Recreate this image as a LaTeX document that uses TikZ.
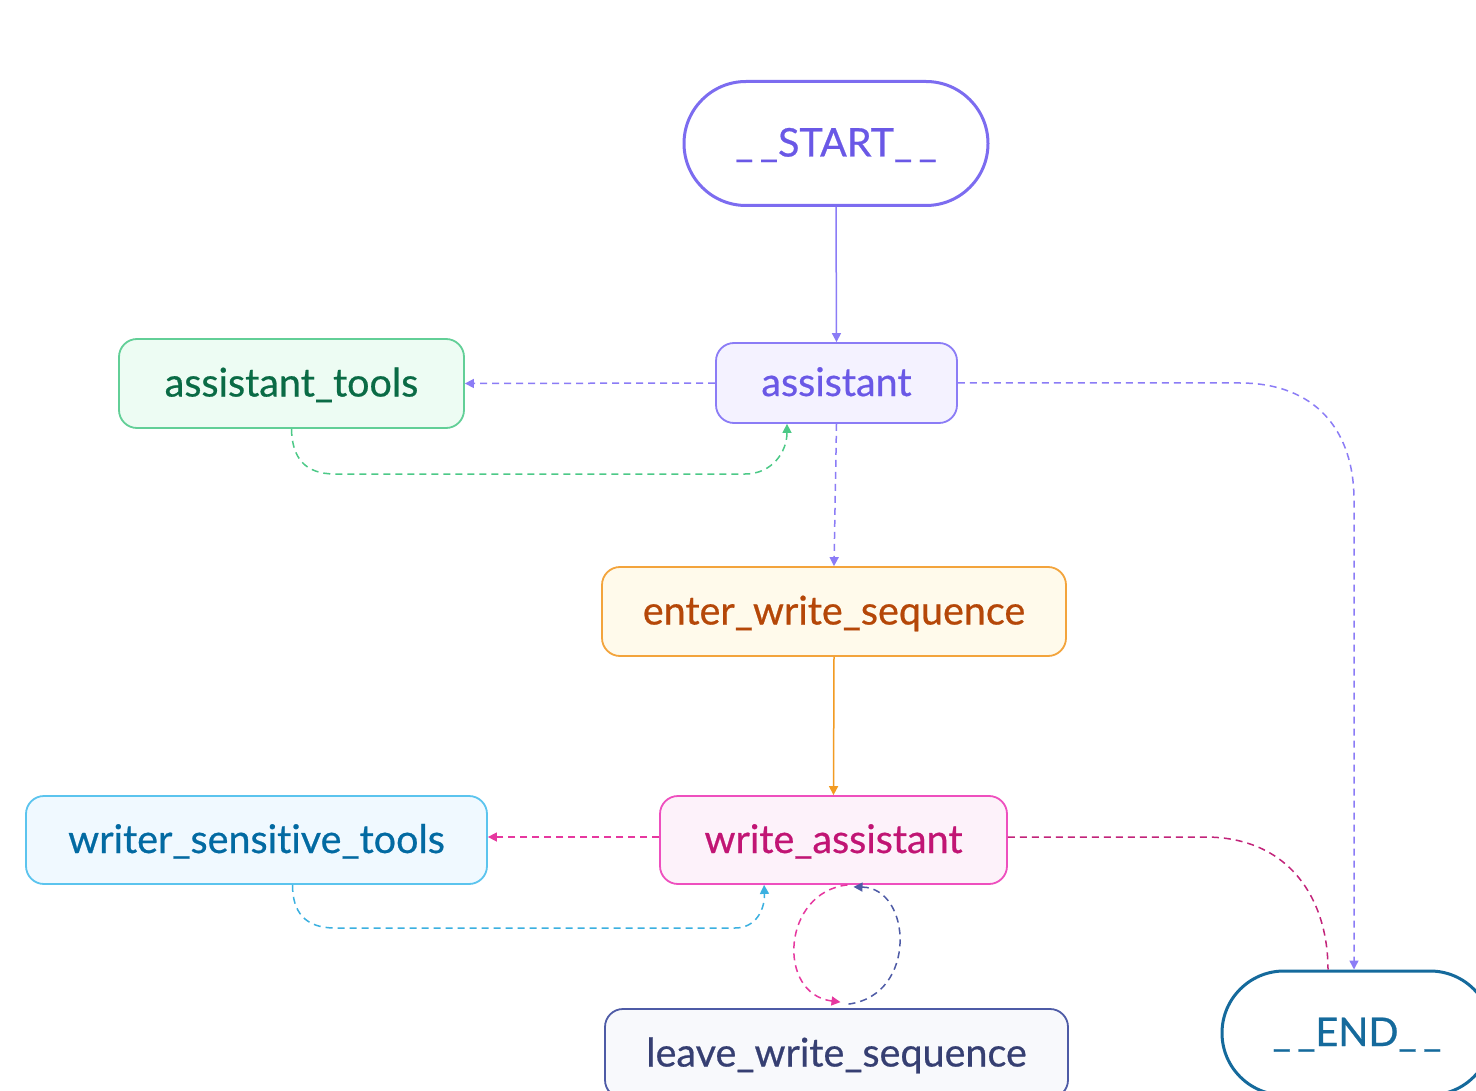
\documentclass[tikz,border=0pt]{standalone}
\usepackage{fontspec}
\setmainfont{Lato}[Ligatures=NoCommon, FakeBold=0.6]
\usetikzlibrary{arrows.meta}
\definecolor{pbord}{HTML}{7C6CF0}
\definecolor{ptext}{HTML}{6A58E6}
\definecolor{pfill}{HTML}{F4F2FF}
\definecolor{pline}{HTML}{8B7CF6}
\definecolor{gbord}{HTML}{62CF97}
\definecolor{gfill}{HTML}{EDFCF3}
\definecolor{gtext}{HTML}{0A6B45}
\definecolor{gline}{HTML}{4CC987}
\definecolor{obord}{HTML}{F3A43C}
\definecolor{ofill}{HTML}{FFFAEB}
\definecolor{otext}{HTML}{B54708}
\definecolor{oline}{HTML}{F29B22}
\definecolor{mbord}{HTML}{EE4FBE}
\definecolor{mfill}{HTML}{FDF2FA}
\definecolor{mtext}{HTML}{C11574}
\definecolor{mline}{HTML}{E6389F}
\definecolor{mdark}{HTML}{C2247A}
\definecolor{cbord}{HTML}{5BC4EE}
\definecolor{cfill}{HTML}{F0F9FF}
\definecolor{ctext}{HTML}{026AA2}
\definecolor{cline}{HTML}{3BB0E0}
\definecolor{dbord}{HTML}{4E5BA6}
\definecolor{dfill}{HTML}{F8F9FC}
\definecolor{dtext}{HTML}{363F72}
\definecolor{ebord}{HTML}{156A9C}
\begin{document}
\begin{tikzpicture}[x=1pt,y=-1pt,
  box/.style={draw, rounded corners=18pt, line width=1.8pt, inner sep=0pt,
    text height=27pt, text depth=1pt, font=\fontsize{39.5}{48}\selectfont},
  term/.style={draw, rounded corners=62pt, line width=3pt, inner sep=0pt,
    minimum width=#1, minimum height=124pt, text height=27pt, text depth=1pt,
    font=\fontsize{39.5}{48}\selectfont},
  tip/.style={-{Triangle[length=9pt,width=9pt]}},
  dsh/.style={dash pattern=on 7pt off 5pt, line width=1.5pt},
  sld/.style={line width=1.5pt}]
\useasboundingbox (0,0) rectangle (1476,1091);
\fill[white] (0,0) rectangle (1476,1091);
\clip (0,0) rectangle (1476,1091);

\node[term=304pt, draw=pbord, text=ptext, fill=white] (start) at (836,143.5) {\_\,\_START\_\,\_};
\node[box, draw=pline, fill=pfill, text=ptext, minimum width=241pt, minimum height=80pt] (assistant) at (836.5,383) {assistant};
\node[box, draw=gbord, fill=gfill, text=gtext, minimum width=345pt, minimum height=89pt] (atools) at (291.5,383.5) {assistant\_tools};
\node[box, draw=obord, fill=ofill, text=otext, minimum width=464pt, minimum height=89pt] (enter) at (834,611.5) {enter\_write\_sequence};
\node[box, draw=mbord, fill=mfill, text=mtext, minimum width=347pt, minimum height=88pt] (wa) at (833.5,840) {write\_assistant};
\node[box, draw=cbord, fill=cfill, text=ctext, minimum width=461pt, minimum height=88pt] (wst) at (256.5,840) {writer\_sensitive\_tools};
\node[box, draw=dbord, fill=dfill, text=dtext, minimum width=463pt, minimum height=89pt] (leave) at (836.5,1053.5) {leave\_write\_sequence};
\node[term=270pt, draw=ebord, text=ebord, fill=white] (end) at (1357,1033) {\_\,\_END\_\,\_};

% edges
\draw[sld, pline, tip] (start.south) -- (assistant.north);
\draw[dsh, pline, tip] (assistant.west) -- (atools.east);
\draw[dsh, gline, tip] (atools.south) .. controls (292,458) and (305,474) .. (335,474)
  -- (745,474) .. controls (772,474) and (787,452) .. ([xshift=-49.5pt]assistant.south);
\draw[dsh, pline, tip] (assistant.south) -- (enter.north);
\draw[dsh, pline, tip] (assistant.east) -- (1240,383) .. controls (1315,383) and (1354,430) .. (1354,500)
  -- ([xshift=-3pt]end.north);
\draw[sld, oline, tip] (enter.south) -- (wa.north);
\draw[dsh, mline, tip] ([yshift=3pt]wa.west) -- ([yshift=3pt]wst.east);
\draw[dsh, cline, tip] ([xshift=36pt]wst.south) .. controls (292.5,912) and (305,928) .. (335,928)
  -- (735,928) .. controls (757,928) and (765,908) .. ([xshift=105pt]wa.south west);
\draw[dsh, mdark] ([yshift=3pt]wa.east) -- (1205,837) .. controls (1290,837) and (1328,900) .. ([xshift=-29pt]end.north);
% self loop via leave_write_sequence
\draw[dsh, mline, tip] ([xshift=14pt]wa.south) .. controls (782,892) and (776,994) .. ([xshift=4pt,yshift=6pt]leave.north);
\draw[dsh, dbord, tip] ([xshift=12pt,yshift=4pt]leave.north) .. controls (918,995) and (912,888) .. ([xshift=20pt,yshift=-2pt]wa.south);
\end{tikzpicture}
\end{document}
